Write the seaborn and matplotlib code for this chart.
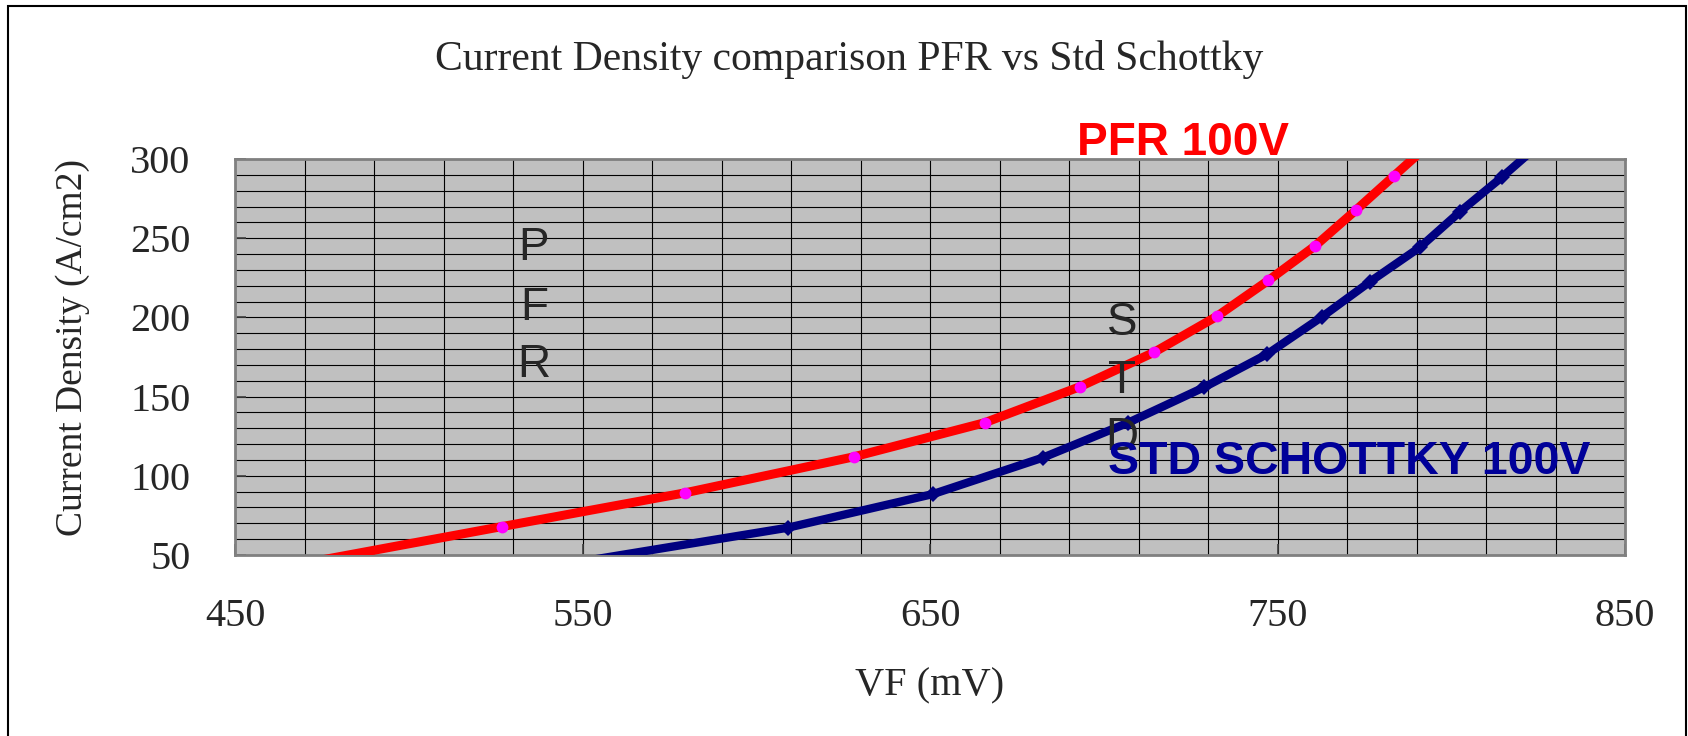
import matplotlib
matplotlib.use("Agg")
import matplotlib.pyplot as plt
import seaborn as sns
import numpy as np
from matplotlib.patches import Rectangle
from matplotlib.ticker import FixedLocator

# forward voltage (mV) vs current density (A/cm2)
pfr_vf = [474.0, 526.7, 579.4, 628.1, 665.7, 693.2, 714.5, 732.5, 747.4, 760.8, 772.6, 783.5, 794.5]
pfr_jd = [46.5, 67.9, 89.2, 112.0, 133.5, 156.3, 178.0, 200.6, 223.4, 245.1, 267.8, 289.3, 311.0]

std_vf = [550.0, 609.0, 650.9, 682.4, 707.0, 728.9, 747.1, 762.7, 776.6, 791.0, 802.5, 814.5, 826.0]
std_jd = [46.0, 67.2, 88.5, 111.4, 133.5, 155.9, 176.9, 200.2, 222.5, 244.3, 266.7, 288.4, 310.5]

x_ticks = [450, 550, 650, 750, 850]
y_ticks = [50, 100, 150, 200, 250, 300]

title = "Current Density comparison PFR vs Std Schottky"
x_label = "VF (mV)"
y_label = "Current Density (A/cm2)"

sns.set_style("white")
plt.rcParams["font.family"] = ["Liberation Serif", "DejaVu Serif"]

fig = plt.figure(figsize=(16.88, 7.36), dpi=100)
ax = fig.add_axes([0.13922, 0.24592, 0.82346, 0.53805])
ax.set_facecolor("#C0C0C0")

# grid: every 20 mV and every 10 A/cm2
ax.xaxis.set_minor_locator(FixedLocator(np.arange(450, 851, 20)))
ax.yaxis.set_minor_locator(FixedLocator(np.arange(50, 301, 10)))
ax.grid(which="both", color="black", lw=0.8)
ax.set_axisbelow(True)

# end points lie outside the axis range, so no markers on them
sns.lineplot(x=pfr_vf, y=pfr_jd, sort=False, estimator=None, color="#FF0000", lw=6.5,
             marker="o", ms=8.5, mfc="#FF00FF", mec="#FF00FF", mew=0,
             markevery=slice(1, -1), ax=ax, zorder=3)
sns.lineplot(x=std_vf, y=std_jd, sort=False, estimator=None, color="#000080", lw=6,
             marker="D", ms=8, mfc="#000080", mec="#000080", mew=0,
             markevery=slice(1, -1), ax=ax, zorder=3)

ax.set_xlim(450, 850)
ax.set_ylim(50, 300)
ax.set_xticks(x_ticks)
ax.set_yticks(y_ticks)
ax.tick_params(which="major", direction="in", length=8, width=1.2, color="#404040",
               labelsize=29, bottom=True, left=True)
ax.tick_params(axis="x", pad=31)
ax.tick_params(axis="y", pad=32)
ax.tick_params(which="minor", length=0)
for side in ax.spines.values():
    side.set_color("#808080")
    side.set_linewidth(2)

ax.set_xlabel(x_label, fontsize=29)
ax.set_ylabel(y_label, fontsize=27)
ax.xaxis.set_label_coords(0.5, -0.285)
ax.yaxis.set_label_coords(-0.104, 0.525)

fig.text(0.5032, 0.9049, title, fontsize=30, ha="center", va="baseline")

# series labels and the stacked letters inside the plot
sans = ["Liberation Sans", "DejaVu Sans"]
ax.text(722.8, 302.5, "PFR 100V", color="#FF0000", fontsize=33, fontweight="bold",
        family=sans, ha="center", va="baseline", zorder=5)
ax.text(770.5, 101.1, "STD SCHOTTKY 100V", color="#000099", fontsize=33.5, fontweight="bold",
        family=sans, ha="center", va="baseline", zorder=5)
for ch, yb in zip("PFR", [236.2, 198.4, 162.4]):
    ax.text(536.0, yb, ch, fontsize=33, family=sans, ha="center", va="baseline", zorder=5)
for ch, yb in zip("STD", [188.9, 152.3, 116.3]):
    ax.text(705.3, yb, ch, fontsize=33, family=sans, ha="center", va="baseline", zorder=4)

# outer chart border
fig.patches.append(Rectangle((8 / 1688, -0.02), 1678 / 1688, 1.02 - 5.5 / 736,
                             transform=fig.transFigure, fill=False, ec="black", lw=1.5))

fig.savefig("out.png", dpi=100)
